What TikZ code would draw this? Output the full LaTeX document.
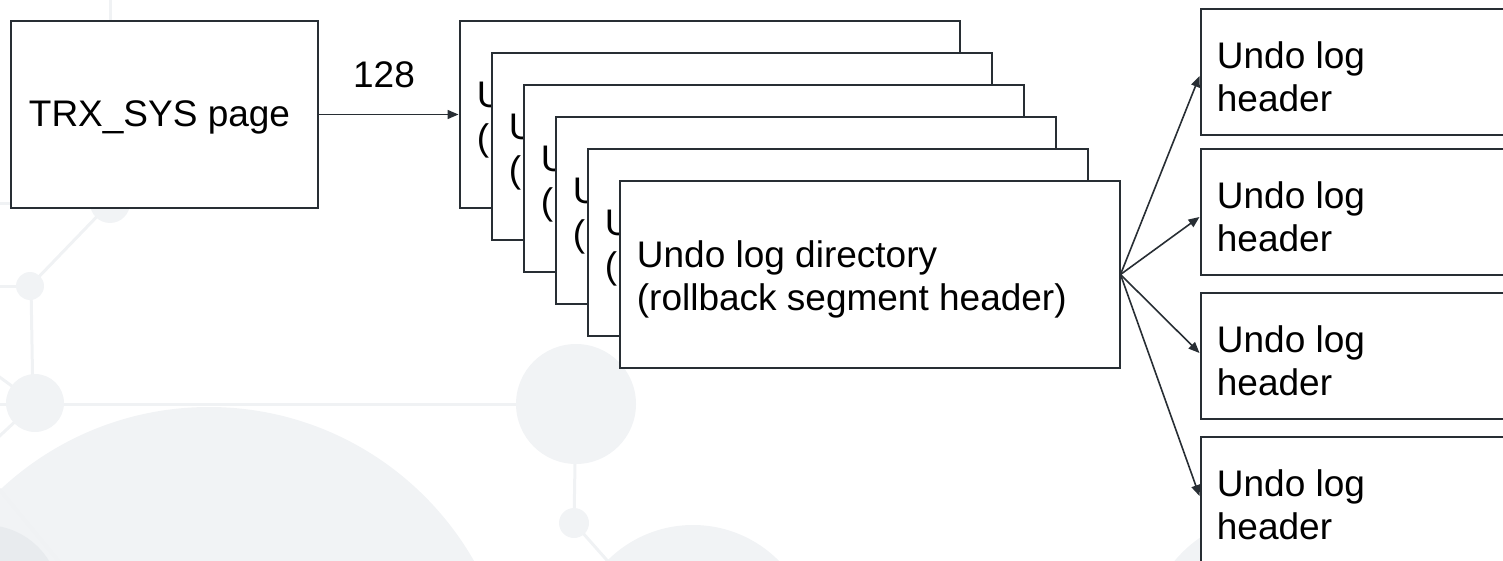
\documentclass[tikz,border=0pt]{standalone}
\usepackage{fontspec}
\setmainfont{Liberation Sans}
\usetikzlibrary{arrows.meta}

\definecolor{edge}{RGB}{40,46,52}
\definecolor{bgline}{RGB}{240,242,244}
\definecolor{bgdot}{RGB}{241,243,245}
\definecolor{bgdark}{RGB}{232,235,238}
\newcommand\diagfont{\fontsize{18.5pt}{21.5pt}\selectfont}

\tikzset{
  page/.style={draw=edge, line width=1pt, fill=white, rectangle,
               inner sep=0pt, anchor=north west},
  boxtext/.style={font=\diagfont, text=black, inner sep=0pt},
  link/.style={draw=edge, line width=0.8pt,
               -{Triangle[length=5.5pt,width=4.5pt]}},
  netline/.style={draw=bgline, line width=1.5pt},
  netdot/.style={fill=bgdot},
}

\begin{document}
\begin{tikzpicture}[x=0.5pt,y=-0.5pt]
\useasboundingbox (0,0) rectangle (1503,561);
\clip (0,0) rectangle (1503,561);

% faint network pattern in the background
\fill[netdot] (209,712) circle (305);
\fill[netdot] (693,646) circle (121);
\fill[netdot] (1270,640) circle (124);
\fill[bgdark] (-15,600) circle (75);
\draw[netline] (110,-5) -- (110,203);
\draw[netline] (-5,204) -- (110,204);
\draw[netline] (110,203) -- (30,286);
\draw[netline] (-5,286) -- (30,286);
\draw[netline] (31,286) -- (33,403);
\draw[netline] (-5,404) -- (576,404);
\draw[netline] (35,403) -- (-10,370);
\draw[netline] (35,403) -- (-10,445);
\draw[netline] (-10,478) -- (70,575);
\draw[netline] (576,404) -- (574,523);
\draw[netline] (574,523) -- (620,575);
\fill[netdot] (110,203) circle (20);
\fill[netdot] (30,286) circle (14);
\fill[netdot] (35,403) circle (29);
\fill[netdot] (576,404) circle (60);
\fill[netdot] (574,523) circle (15);

% transaction system page
\node[page, minimum width=153.5pt, minimum height=93.5pt] (trx) at (10,20) {};
\node[boxtext, anchor=base west] (trxtext) at (28.5,127) {TRX\_SYS page};

% stack of rollback segment header pages
\foreach \i in {0,...,5} {
  \node[page, minimum width=250pt, minimum height=93.5pt]
    (dir\i) at ({458.5+32*\i},{20+32*\i}) {};
  \node[boxtext, anchor=north west, align=left]
    (dirtext\i) at ({476.5+32*\i},{80+32*\i})
    {Undo log directory\\(rollback segment header)};
}

\draw[link] (trx.east) -- (dir0.west);
\node[boxtext, anchor=base] (count) at (384,88) {128};

% undo log headers
\foreach \t/\n in {8/a,148/b,292/c,436/d} {
  \node[page, minimum width=160pt, minimum height=63pt] (hdr\n) at (1199.5,\t) {};
  \node[boxtext, anchor=north west, align=left]
    (hdrtext\n) at (1216.5,{\t+33.5}) {Undo log\\header};
}

\draw[link] (dir5.east) -- ([yshift=-2pt]hdra.west);
\draw[link] (dir5.east) -- ([yshift=-2.5pt]hdrb.west);
\draw[link] (dir5.east) -- ([yshift=1.5pt]hdrc.west);
\draw[link] (dir5.east) -- ([yshift=2pt]hdrd.west);
\end{tikzpicture}
\end{document}
